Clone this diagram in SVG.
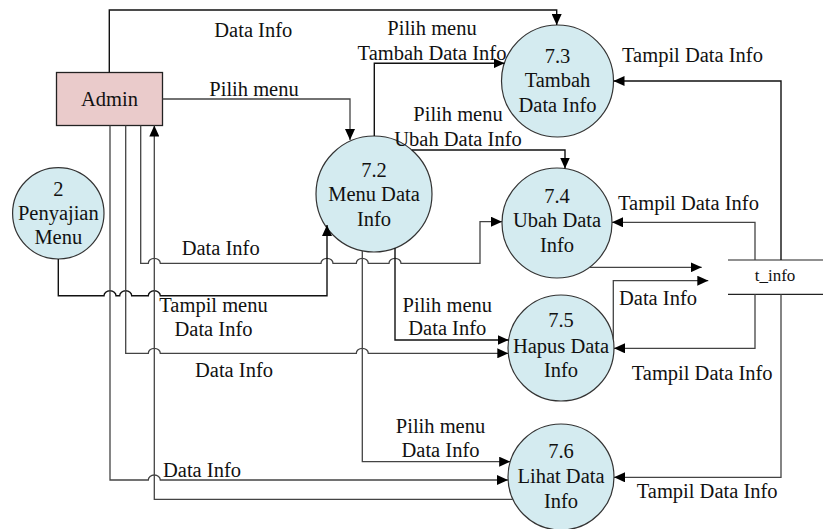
<svg xmlns="http://www.w3.org/2000/svg" width="823" height="529" viewBox="0 0 823 529" style="font-family:'Liberation Serif',serif">
<style>
.m{text-anchor:middle}
.t{font-family:'Liberation Serif',serif;font-size:20.5px;fill:#111}
.proc{fill:#D4EBF0;stroke:#333;stroke-width:1.2}
.ent{fill:#EACBCB;stroke:#222;stroke-width:1.3}
.c{fill:none;stroke:#444;stroke-width:1.3}
.k{fill:none;stroke:#111;stroke-width:1.4}
.a{marker-end:url(#ah)}
.st{stroke:#222;stroke-width:1.2}
</style>
<defs>
<marker id="ah" viewBox="0 0 11 10" refX="11" refY="5" markerWidth="11" markerHeight="10" markerUnits="userSpaceOnUse" orient="auto"><path d="M0,0 L11,5 L0,10 z" fill="#000"/></marker>
</defs>
<rect width="823" height="529" fill="#fff"/>

<g id="admin"><rect class="ent" x="56.5" y="72.5" width="106" height="53"/><text class="t m" x="109.5" y="106" style="font-family:'Liberation Serif',serif">Admin</text></g>
<g id="p2"><circle class="proc" cx="58.3" cy="213.3" r="45.7"/><text class="t m" x="58.3" y="196" style="font-family:'Liberation Serif',serif">2</text><text class="t m" x="58.3" y="220" style="font-family:'Liberation Serif',serif">Penyajian</text><text class="t m" x="58.3" y="244" style="font-family:'Liberation Serif',serif">Menu</text></g>
<g id="p72"><circle class="proc" cx="374" cy="194" r="58"/><text class="t m" x="374" y="177" style="font-family:'Liberation Serif',serif">7.2</text><text class="t m" x="374" y="201" style="font-family:'Liberation Serif',serif">Menu Data</text><text class="t m" x="374" y="226" style="font-family:'Liberation Serif',serif">Info</text></g>
<g id="p73"><circle class="proc" cx="557.5" cy="81" r="56"/><text class="t m" x="557.5" y="63" style="font-family:'Liberation Serif',serif">7.3</text><text class="t m" x="557.5" y="87" style="font-family:'Liberation Serif',serif">Tambah</text><text class="t m" x="557.5" y="112" style="font-family:'Liberation Serif',serif">Data Info</text></g>
<g id="p74"><circle class="proc" cx="557" cy="223" r="55"/><text class="t m" x="557" y="203" style="font-family:'Liberation Serif',serif">7.4</text><text class="t m" x="557" y="227" style="font-family:'Liberation Serif',serif">Ubah Data</text><text class="t m" x="557" y="252" style="font-family:'Liberation Serif',serif">Info</text></g>
<g id="p75"><circle class="proc" cx="561" cy="348" r="53"/><text class="t m" x="561" y="327" style="font-family:'Liberation Serif',serif">7.5</text><text class="t m" x="561" y="353" style="font-family:'Liberation Serif',serif">Hapus Data</text><text class="t m" x="561" y="377" style="font-family:'Liberation Serif',serif">Info</text></g>
<g id="p76"><circle class="proc" cx="561" cy="477" r="53"/><text class="t m" x="561" y="458" style="font-family:'Liberation Serif',serif">7.6</text><text class="t m" x="561" y="483" style="font-family:'Liberation Serif',serif">Lihat Data</text><text class="t m" x="561" y="508" style="font-family:'Liberation Serif',serif">Info</text></g>
<g id="tinfo"><line class="st" x1="728" y1="260" x2="823" y2="260"/><line class="st" x1="728" y1="294.3" x2="823" y2="294.3"/><text class="t m" x="775" y="281" style="font-family:'Liberation Serif',serif;font-size:17px">t_info</text></g>

<g id="connectors">
<path class="k a" d="M109.3,72.5 V10 H556.7 V25"/>
<path class="c a" d="M162.5,99 H350 V140"/>
<path class="k a" d="M374.3,136 V63.3 H504.5"/>
<path class="k a" d="M411.8,150 H565 V168.5"/>
<path class="c a" d="M140.7,125.5 V263.3 H148.3 a6,5 0 0 1 12,0 H321 a6,5 0 0 1 12,0 H356.3 a6,5 0 0 1 12,0 H389 a6,5 0 0 1 12,0 H480 V221.7 H502"/>
<path class="k a" d="M58.3,259 V295.7 H104 a6,5 0 0 1 12,0 H119.7 a6,5 0 0 1 12,0 H148.3 a6,5 0 0 1 12,0 H327 V225"/>
<path class="c a" d="M125.7,125.5 V353.3 H148.3 a6,5 0 0 1 12,0 H356.3 a6,5 0 0 1 12,0 H508.3"/>
<path class="k a" d="M395,248 V340 H508.6"/>
<path class="c a" d="M362.3,250.8 V461.7 H510.2"/>
<path class="c a" d="M110,125.5 V480 H148.3 a6,5 0 0 1 12,0 H508"/>
<path class="c a" d="M512.9,499.3 H154.3 V125.5"/>
<path class="k a" d="M781,260 V81 H613.5"/>
<path class="c a" d="M755,260 V222.3 H612"/>
<path class="c a" d="M589.6,267.3 H701.7"/>
<path class="c a" d="M613.3,339.4 V280.7 H708.3"/>
<path class="c a" d="M755,294.3 V348.3 H614"/>
<path class="c a" d="M781,294.3 V477.3 H614"/>
</g>

<g id="labels">
<text class="t" x="214.3" y="36.5" style="font-family:'Liberation Serif',serif">Data Info</text>
<text class="t" x="209.3" y="96" style="font-family:'Liberation Serif',serif">Pilih menu</text>
<text class="t m" x="432" y="35" style="font-family:'Liberation Serif',serif">Pilih menu</text>
<text class="t m" x="432" y="60" style="font-family:'Liberation Serif',serif">Tambah Data Info</text>
<text class="t m" x="458" y="120.5" style="font-family:'Liberation Serif',serif">Pilih menu</text>
<text class="t m" x="458" y="146" style="font-family:'Liberation Serif',serif">Ubah Data Info</text>
<text class="t" x="622" y="62" style="font-family:'Liberation Serif',serif">Tampil Data Info</text>
<text class="t" x="181.7" y="255" style="font-family:'Liberation Serif',serif">Data Info</text>
<text class="t m" x="213.5" y="311.7" style="font-family:'Liberation Serif',serif">Tampil menu</text>
<text class="t m" x="213.5" y="336" style="font-family:'Liberation Serif',serif">Data Info</text>
<text class="t m" x="447.3" y="311.7" style="font-family:'Liberation Serif',serif">Pilih menu</text>
<text class="t m" x="447.3" y="335" style="font-family:'Liberation Serif',serif">Data Info</text>
<text class="t" x="618" y="210" style="font-family:'Liberation Serif',serif">Tampil Data Info</text>
<text class="t" x="619" y="305" style="font-family:'Liberation Serif',serif">Data Info</text>
<text class="t" x="195" y="377" style="font-family:'Liberation Serif',serif">Data Info</text>
<text class="t" x="631.7" y="380" style="font-family:'Liberation Serif',serif">Tampil Data Info</text>
<text class="t m" x="440.5" y="433" style="font-family:'Liberation Serif',serif">Pilih menu</text>
<text class="t m" x="440.5" y="456.7" style="font-family:'Liberation Serif',serif">Data Info</text>
<text class="t" x="163" y="476.5" style="font-family:'Liberation Serif',serif">Data Info</text>
<text class="t" x="636.7" y="498" style="font-family:'Liberation Serif',serif">Tampil Data Info</text>
</g>
</svg>
